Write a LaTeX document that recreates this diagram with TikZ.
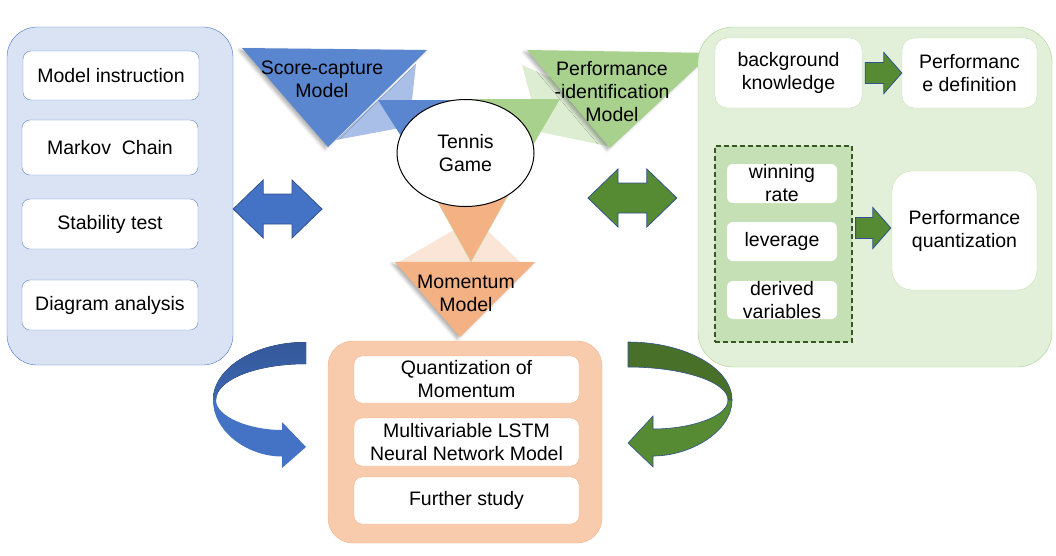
\documentclass[tikz,border=0pt]{standalone}
\usepackage{fontspec}
\setmainfont{Liberation Sans}
\usetikzlibrary{shapes.geometric,calc,shadows.blur}

\definecolor{paleblue}{HTML}{DAE3F3}
\definecolor{midblue}{HTML}{4472C4}
\definecolor{darkblue}{HTML}{2F528F}
\definecolor{triblue}{HTML}{5A86CF}
\definecolor{lightblue}{HTML}{A9BFE7}
\definecolor{bandblue}{HTML}{34589A}
\definecolor{palegreen}{HTML}{E2F0D9}
\definecolor{midgreen}{HTML}{A9D18E}
\definecolor{lightgreen}{HTML}{DCEDD1}
\definecolor{boxgreen}{HTML}{C5E0B4}
\definecolor{darkgreen}{HTML}{568B33}
\definecolor{bandgreen}{HTML}{497028}
\definecolor{deepgreen}{HTML}{385723}
\definecolor{triorange}{HTML}{F4B183}
\definecolor{paleorange}{HTML}{F8CBAD}
\definecolor{lightorange}{HTML}{FBE5D6}

% block arrow pointing right, from #1 to #2
\newcommand\blockarrow[2]{%
  \draw[garrow] ($(#1)+(0,-10.5)$) -- ($(#2)+(-18,-10.5)$) -- ($(#2)+(-18,-20.5)$) -- (#2)
    -- ($(#2)+(-18,20.5)$) -- ($(#2)+(-18,10.5)$) -- ($(#1)+(0,10.5)$) -- cycle;}
% double block arrow between #1 and #2
\newcommand\dblarrow[3]{%
  \draw[#3] (#1) -- ($(#1)+(30,-29)$) -- ($(#1)+(30,-15)$) -- ($(#2)+(-30,-15)$)
    -- ($(#2)+(-30,-29)$) -- (#2) -- ($(#2)+(-30,29)$) -- ($(#2)+(-30,15)$)
    -- ($(#1)+(30,15)$) -- ($(#1)+(30,29)$) -- cycle;}

\begin{document}
\begin{tikzpicture}[x=1pt,y=-1pt,
  every node/.style={font=\fontsize{19.5}{23}\selectfont,align=center,inner sep=0pt},
  bluebox/.style={draw=midblue!85,fill=white,rounded corners=8pt,minimum width=176pt,minimum height=50pt},
  greenbox/.style={draw=boxgreen,fill=white,rounded corners=12pt},
  varitem/.style={fill=white,rounded corners=6pt,minimum width=110pt,minimum height=39pt},
  orangebox/.style={draw=triorange,fill=white,rounded corners=8pt,minimum width=225pt,minimum height=47pt},
  tri/.style={blur shadow={shadow xshift=-3pt,shadow yshift=-2pt,shadow blur radius=3pt,shadow opacity=30}},
  garrow/.style={fill=darkgreen,draw=darkblue,line width=.8pt},
  barrow/.style={fill=midblue,draw=darkblue,line width=.8pt}]
\useasboundingbox (0,0) rectangle (1056,555);

% model triangles round the game
\fill[lightblue] (336,140) -- (416,64) -- (412,100) -- (405,127) -- cycle;
\fill[lightgreen] (522,65) -- (540,132) -- (607,146) -- (600,100) -- cycle;
\fill[lightorange] (397,263) -- (452,231) -- (488,231) -- (520,262) -- cycle;
\fill[triblue,tri] (242,48) -- (427,50) -- (328,147) -- cycle;
\fill[triblue] (378,100) -- (480,100) -- (429,180) -- cycle;
\fill[midgreen,tri] (527,50) -- (712,53) -- (610,148) -- cycle;
\fill[midgreen] (470,99) -- (560,99) -- (515,176) -- cycle;
\filldraw[fill=triorange,draw=boxgreen] (432,192) -- (510,192) -- (471,262) -- cycle;
\fill[triorange,tri] (395,262) -- (535,262) -- (460,337) -- cycle;

\node[draw,ellipse,fill=white,line width=1pt,minimum width=137pt,minimum height=107pt] (tennis) at (465.5,153) {Tennis\\Game};
\node (scoremodel) at (322,79) {Score-capture\\Model};
\node (perfmodel) at (612,92) {Performance\\-identification\\Model};
\node (momentum) at (466,293) {Momentum\\Model};

% left panel
\node[draw=midblue,fill=paleblue,rounded corners=30pt,minimum width=226pt,minimum height=338pt] (leftpanel) at (120,196) {};
\node[bluebox,minimum height=49pt] (instr) at (111,75.5) {Model instruction};
\node[bluebox,minimum height=55pt] (markov) at (110,147.5) {Markov\ \ Chain};
\node[bluebox] (stab) at (110,224) {Stability test};
\node[bluebox] (diag) at (110,305) {Diagram analysis};

% right panel
\node[draw=midgreen,fill=palegreen,rounded corners=35pt,minimum width=354pt,minimum height=340pt] (rightpanel) at (875,197) {};
\node[greenbox,minimum width=147pt,minimum height=70pt] (bgk) at (788.5,73) {background\\knowledge};
\node[greenbox,minimum width=135pt,minimum height=70pt] (perfdef) at (969.5,73) {Performanc\\e definition};
\node[draw=deepgreen,dashed,dash pattern=on 5pt off 3pt,fill=boxgreen,line width=1.2pt,minimum width=137pt,minimum height=196pt] (varbox) at (783.5,244) {};
\node[varitem] (win) at (782,183.5) {winning\\rate};
\node[varitem] (lev) at (782,241.5) {leverage};
\node[varitem,minimum height=38pt] (der) at (782,300) {derived\\variables};
\node[greenbox,rounded corners=20pt,minimum width=145pt,minimum height=119pt] (perfq) at (964.5,230.5) {Performance\\quantization};

\coordinate (a1) at ($(bgk.east)+(3,0)$);
\blockarrow{a1}{perfdef.west}
\coordinate (a2) at ($(varbox.east)+(3,-16)$);
\coordinate (a3) at ($(perfq.west)+(-1,-2.5)$);
\blockarrow{a2}{a3}

% bottom panel
\node[draw=triorange,fill=paleorange,rounded corners=25pt,minimum width=274pt,minimum height=202pt] (botpanel) at (465,442) {};
\node[orangebox] (quant) at (466.5,379.5) {Quantization of\\Momentum};
\node[orangebox,minimum height=48pt] (lstm) at (466.5,442) {Multivariable LSTM\\Neural Network Model};
\node[orangebox] (further) at (466.5,500.5) {Further study};

% double arrows
\coordinate (dl) at ($(leftpanel.east)+(0,13)$);
\coordinate (dr) at (322,209);
\dblarrow{dl}{dr}{barrow}
\coordinate (el) at (588,198);
\coordinate (er) at ($(rightpanel.west)+(-21,1)$);
\dblarrow{el}{er}{garrow}

% curved arrows into the bottom panel
\fill[top color=bandblue,bottom color=midblue!90!black] (306,342) .. controls (255,342) and (213,368) .. (213,400)
  -- (216,400) .. controls (216,380) and (256,364) .. (306,364) -- cycle;
\fill[midblue] (213,400) .. controls (213,432) and (248,456.5) .. (282,456.5) -- (282,468) -- (306,447)
  -- (282,422) -- (282,430) .. controls (250,430) and (216,417) .. (216,400) -- cycle;
\filldraw[fill=bandgreen,draw=darkblue,line width=.6pt] (628,342) .. controls (685,342) and (732,368) .. (732,400)
  -- (728,400) .. controls (728,382) and (683,367) .. (628,367) -- cycle;
\filldraw[fill=darkgreen,draw=darkblue,line width=.6pt] (732,400) .. controls (732,432) and (690,456) .. (653,456)
  -- (653,467) -- (628,443) -- (653,416) -- (653,429) .. controls (690,429) and (728,417) .. (728,400) -- cycle;
\end{tikzpicture}
\end{document}
